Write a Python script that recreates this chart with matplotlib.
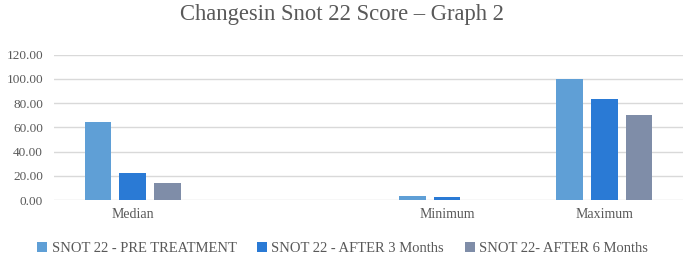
import matplotlib
matplotlib.use("Agg")
import matplotlib.pyplot as plt
import numpy as np

categories = ["Median", "", "Minimum", "Maximum"]
series_names = ["SNOT 22 - PRE TREATMENT", "SNOT 22 - AFTER 3 Months", "SNOT 22- AFTER 6 Months"]
pre_treatment = [64, np.nan, 3.5, 100]
after_3_months = [22, np.nan, 2.5, 83]
after_6_months = [14, np.nan, 0, 70]
yticks = [0, 20, 40, 60, 80, 100, 120]

colors = ["#5f9fd6", "#2a7ad5", "#7f8da8"]
text_color = "#595959"

plt.rcParams['font.family'] = ['Liberation Serif', 'DejaVu Serif']

fig = plt.figure(figsize=(6.85, 2.64), dpi=100)
ax = fig.add_axes([0.079, 0.2424, 0.918, 0.551])

x = np.arange(len(categories))
width = 0.17
step = 0.22
for i, (vals, name) in enumerate(zip([pre_treatment, after_3_months, after_6_months], series_names)):
    ax.bar(x + (i - 1) * step, vals, width, color=colors[i], label=name, zorder=3)

ax.set_xlim(-0.5, len(categories) - 0.5)
ax.set_ylim(0, 120)
ax.set_yticks(yticks)
ax.set_yticklabels([f"{v:.2f}" for v in yticks], fontsize=9.5, color=text_color)
ax.set_xticks(x)
ax.set_xticklabels(categories, fontsize=10, color=text_color)
ax.tick_params(axis='both', length=0, pad=8)
ax.tick_params(axis='x', pad=6)
ax.grid(axis='y', color="#d9d9d9", linewidth=1, zorder=0)
for s in ax.spines.values():
    s.set_visible(False)

fig.suptitle("Changesin Snot 22 Score \u2013 Graph 2", fontsize=16.3, color=text_color, y=0.985)

handles, labels = ax.get_legend_handles_labels()
fig.legend(handles, labels, loc='center', bbox_to_anchor=(0.5, 0.06), ncol=3, frameon=False,
           fontsize=10.5, handlelength=0.7, handleheight=0.7, handletextpad=0.3, columnspacing=1.4,
           labelcolor=text_color)

fig.savefig("out.png", dpi=100)
